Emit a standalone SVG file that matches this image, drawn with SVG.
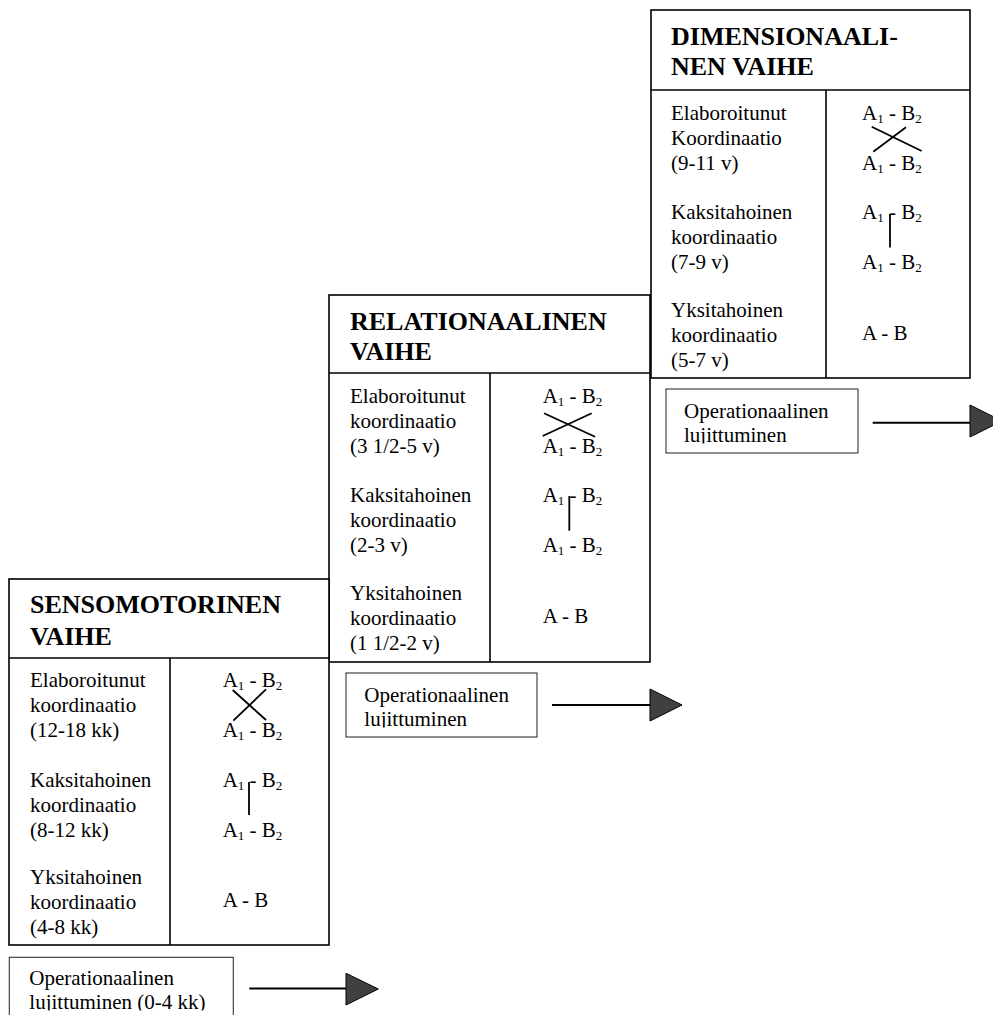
<svg xmlns="http://www.w3.org/2000/svg" width="993" height="1015" viewBox="0 0 993 1015">
<style>
text{font-family:"Liberation Serif","Times New Roman",serif;fill:#000}
.h{font-size:26px;font-weight:bold}
.t{font-size:21px}
.s{font-size:13px}
.box{fill:#fff;stroke:#000;stroke-width:1.6}
.ln{fill:none;stroke:#000;stroke-width:1.6}
.fx{fill:none;stroke:#000;stroke-width:1.8}
.op{fill:#fff;stroke:#333;stroke-width:1.1}
.ar{fill:none;stroke:#000;stroke-width:2}
.hd{fill:#404040;stroke:#000;stroke-width:1}
</style>
<defs>
<clipPath id="c1"><rect x="0" y="950" width="240" height="60.5"/></clipPath>
<clipPath id="c2"><rect x="340" y="670" width="200" height="57.5"/></clipPath>
<clipPath id="c3"><rect x="660" y="385" width="200" height="58.5"/></clipPath>
</defs>
<rect width="993" height="1015" fill="#fff"/>

<g id="stage3">
<rect class="box" x="651" y="10" width="319" height="368"/>
<line class="ln" x1="651" y1="90" x2="970" y2="90"/>
<line class="ln" x1="826" y1="90" x2="826" y2="378"/>
<text class="h" x="671" y="45">DIMENSIONAALI-</text>
<text class="h" x="671" y="75">NEN VAIHE</text>
<text class="t" x="671" y="120">Elaboroitunut</text>
<text class="t" x="671" y="145">Koordinaatio</text>
<text class="t" x="671" y="170">(9-11 v)</text>
<text class="t" x="671" y="219">Kaksitahoinen</text>
<text class="t" x="671" y="244">koordinaatio</text>
<text class="t" x="671" y="269">(7-9 v)</text>
<text class="t" x="671" y="317">Yksitahoinen</text>
<text class="t" x="671" y="342">koordinaatio</text>
<text class="t" x="671" y="367">(5-7 v)</text>
<text class="t" x="862" y="120">A<tspan class="s" dy="3">1</tspan><tspan dy="-3"> - B</tspan><tspan class="s" dy="3">2</tspan></text>
<text class="t" x="862" y="170">A<tspan class="s" dy="3">1</tspan><tspan dy="-3"> - B</tspan><tspan class="s" dy="3">2</tspan></text>
<line class="fx" x1="871.7" y1="126.7" x2="921.7" y2="151"/>
<line class="fx" x1="906" y1="127.3" x2="873.3" y2="151.7"/>
<text class="t" x="862" y="219">A<tspan class="s" dy="3">1</tspan><tspan dy="-3"> - B</tspan><tspan class="s" dy="3">2</tspan></text>
<line class="fx" x1="890" y1="214" x2="890" y2="247.5"/>
<text class="t" x="862" y="269">A<tspan class="s" dy="3">1</tspan><tspan dy="-3"> - B</tspan><tspan class="s" dy="3">2</tspan></text>
<text class="t" x="862" y="340">A - B</text>
</g>

<g id="stage2">
<rect class="box" x="329" y="295" width="321" height="367"/>
<line class="ln" x1="329" y1="373" x2="650" y2="373"/>
<line class="ln" x1="490" y1="373" x2="490" y2="662"/>
<text class="h" x="350" y="330">RELATIONAALINEN</text>
<text class="h" x="350" y="360">VAIHE</text>
<text class="t" x="350" y="403">Elaboroitunut</text>
<text class="t" x="350" y="428">koordinaatio</text>
<text class="t" x="350" y="453">(3 1/2-5 v)</text>
<text class="t" x="350" y="502">Kaksitahoinen</text>
<text class="t" x="350" y="527">koordinaatio</text>
<text class="t" x="350" y="552">(2-3 v)</text>
<text class="t" x="350" y="600">Yksitahoinen</text>
<text class="t" x="350" y="625">koordinaatio</text>
<text class="t" x="350" y="650">(1 1/2-2 v)</text>
<text class="t" x="542.7" y="403">A<tspan class="s" dy="3">1</tspan><tspan dy="-3"> - B</tspan><tspan class="s" dy="3">2</tspan></text>
<text class="t" x="542.7" y="453">A<tspan class="s" dy="3">1</tspan><tspan dy="-3"> - B</tspan><tspan class="s" dy="3">2</tspan></text>
<line class="fx" x1="544" y1="413.3" x2="595" y2="436.7"/>
<line class="fx" x1="591.7" y1="413.3" x2="542.7" y2="436"/>
<text class="t" x="542.7" y="502">A<tspan class="s" dy="3">1</tspan><tspan dy="-3"> - B</tspan><tspan class="s" dy="3">2</tspan></text>
<line class="fx" x1="569.3" y1="496" x2="569.3" y2="530.7"/>
<text class="t" x="542.7" y="552">A<tspan class="s" dy="3">1</tspan><tspan dy="-3"> - B</tspan><tspan class="s" dy="3">2</tspan></text>
<text class="t" x="542.7" y="623">A - B</text>
</g>

<g id="stage1">
<rect class="box" x="9" y="579" width="320" height="366"/>
<line class="ln" x1="9" y1="658" x2="329" y2="658"/>
<line class="ln" x1="170" y1="658" x2="170" y2="945"/>
<text class="h" x="30" y="613">SENSOMOTORINEN</text>
<text class="h" x="30" y="645">VAIHE</text>
<text class="t" x="30" y="687">Elaboroitunut</text>
<text class="t" x="30" y="712">koordinaatio</text>
<text class="t" x="30" y="737">(12-18 kk)</text>
<text class="t" x="30" y="787">Kaksitahoinen</text>
<text class="t" x="30" y="812">koordinaatio</text>
<text class="t" x="30" y="837">(8-12 kk)</text>
<text class="t" x="30" y="884">Yksitahoinen</text>
<text class="t" x="30" y="909">koordinaatio</text>
<text class="t" x="30" y="934">(4-8 kk)</text>
<text class="t" x="222.7" y="687">A<tspan class="s" dy="3">1</tspan><tspan dy="-3"> - B</tspan><tspan class="s" dy="3">2</tspan></text>
<text class="t" x="222.7" y="737">A<tspan class="s" dy="3">1</tspan><tspan dy="-3"> - B</tspan><tspan class="s" dy="3">2</tspan></text>
<line class="fx" x1="232.7" y1="690" x2="266" y2="720"/>
<line class="fx" x1="266" y1="689.3" x2="233.3" y2="720.7"/>
<text class="t" x="222.7" y="787">A<tspan class="s" dy="3">1</tspan><tspan dy="-3"> - B</tspan><tspan class="s" dy="3">2</tspan></text>
<line class="fx" x1="249" y1="782" x2="249" y2="815"/>
<text class="t" x="222.7" y="837">A<tspan class="s" dy="3">1</tspan><tspan dy="-3"> - B</tspan><tspan class="s" dy="3">2</tspan></text>
<text class="t" x="222.7" y="907">A - B</text>
</g>

<g id="op3">
<rect class="op" x="666" y="389" width="192" height="64"/>
<g clip-path="url(#c3)">
<text class="t" x="684" y="418">Operationaalinen</text>
<text class="t" x="684" y="441.7">lujittuminen</text>
</g>
</g>

<g id="op2">
<rect class="op" x="346" y="673" width="191" height="64"/>
<g clip-path="url(#c2)">
<text class="t" x="364.3" y="701.7">Operationaalinen</text>
<text class="t" x="364.3" y="725.5">lujittuminen</text>
</g>
</g>

<g id="op1">
<rect class="op" x="9.3" y="957.3" width="224" height="64"/>
<g clip-path="url(#c1)">
<text class="t" x="29.3" y="985">Operationaalinen</text>
<text class="t" x="29.3" y="1008.5">lujittuminen (0-4 kk)</text>
</g>
</g>

<g id="connectors">
<line class="ar" x1="249.3" y1="988.5" x2="346" y2="988.5"/>
<polygon class="hd" points="346,973.3 378.3,989 346,1005"/>
<line class="ar" x1="552" y1="705" x2="650" y2="705"/>
<polygon class="hd" points="650,689 682,705 650,721"/>
<line class="ar" x1="872.7" y1="422.7" x2="970" y2="422.7"/>
<polygon class="hd" points="970,405 1002,421 970,437"/>
</g>
</svg>
